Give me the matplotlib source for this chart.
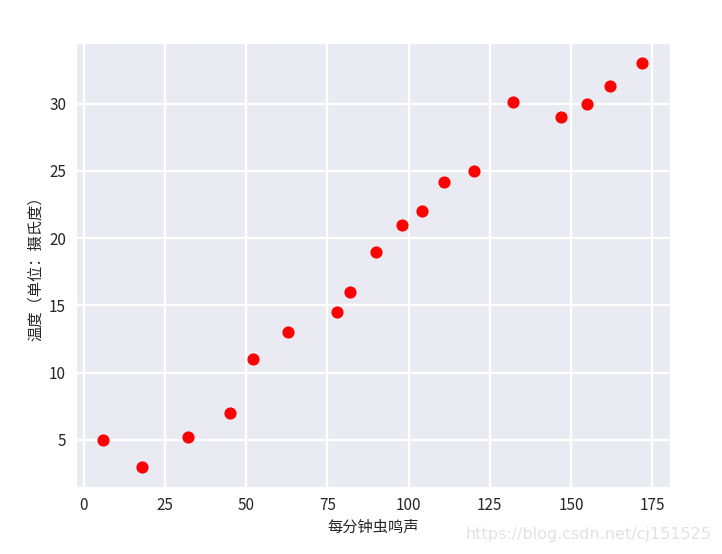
import matplotlib.pyplot as plt
import seaborn as sns

# chirps per minute vs temperature
chirps = [6, 18, 32, 45, 52, 63, 78, 82, 90, 98, 104, 111, 120, 132, 147, 155, 162, 172]
temps = [5, 3, 5.2, 7, 11, 13, 14.5, 16, 19, 21, 22, 24.2, 25, 30.1, 29, 30, 31.3, 33]

sns.set_style("darkgrid")
plt.rcParams['font.family'] = ['Noto Sans CJK SC', 'DejaVu Sans']
plt.rcParams['axes.unicode_minus'] = False

fig = plt.figure(figsize=(7.22, 5.54), dpi=100)
ax = fig.add_axes([0.105, 0.121, 0.823, 0.801])
ax.scatter(chirps, temps, color="red", s=60, zorder=3)

ax.set_xlabel("每分钟虫鸣声", fontsize=11)
ax.set_ylabel("温度（单位：摄氏度）", fontsize=11)
ax.set_xticks([0, 25, 50, 75, 100, 125, 150, 175])
ax.set_yticks([5, 10, 15, 20, 25, 30])
ax.tick_params(labelsize=11)
ax.grid(True, color="white", linewidth=1.6)
ax.set_xlim(-2.5, 180.5)
ax.set_ylim(1.5, 34.5)

fig.text(0.985, 0.022, "https://blog.csdn.net/cj151525", ha="right", va="bottom",
         color="#e2e2e2", fontsize=11.5, family=["DejaVu Sans"])

fig.savefig("out.png")
